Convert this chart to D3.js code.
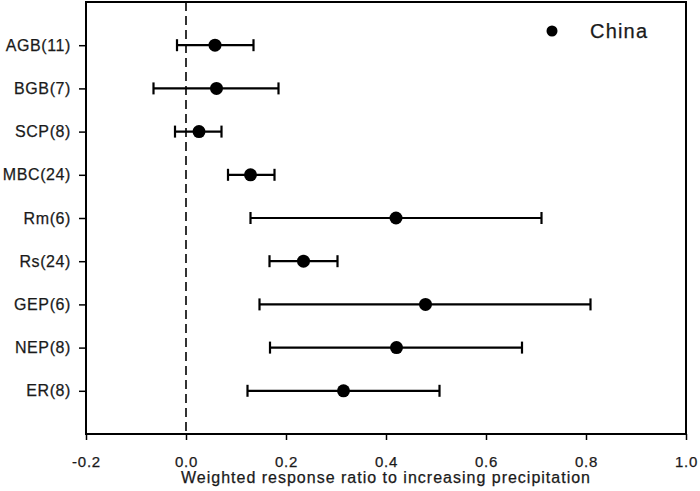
<!DOCTYPE html>
<html>
<head>
<meta charset="utf-8">
<script src="https://cdn.jsdelivr.net/npm/d3@7"></script>
<style>
  html, body { margin: 0; padding: 0; background: #fff; }
  text { font-family: "Liberation Sans", Arial, sans-serif; fill: #1a1a1a; stroke: #1a1a1a; stroke-width: 0.25px; }
</style>
</head>
<body>
<svg id="chart" width="700" height="491"></svg>
<script>
// ---- data ----
const categories = ["AGB(11)", "BGB(7)", "SCP(8)", "MBC(24)", "Rm(6)", "Rs(24)", "GEP(6)", "NEP(8)", "ER(8)"];
const meanValues = [0.058, 0.061, 0.026, 0.129, 0.420, 0.235, 0.479, 0.421, 0.315];
const lowerCI    = [-0.018, -0.065, -0.022, 0.084, 0.129, 0.167, 0.147, 0.168, 0.123];
const upperCI    = [0.135, 0.185, 0.071, 0.177, 0.711, 0.303, 0.809, 0.672, 0.507];
const xTickValues = [-0.2, 0.0, 0.2, 0.4, 0.6, 0.8, 1.0];
const xTickLabels = ["-0.2", "0.0", "0.2", "0.4", "0.6", "0.8", "1.0"];
const seriesName = "China";
const xTitle = "Weighted response ratio to increasing precipitation";

const svg = d3.select("#chart");
const m = { left: 86, right: 686, top: 2, bottom: 434 };

const x = d3.scaleLinear().domain([-0.2, 1.0]).range([m.left, m.right]);
const y = d3.scaleLinear().domain([0, categories.length + 1]).range([m.top, m.bottom]);

const rows = categories.map((c, i) => ({ c, i, mean: meanValues[i], lo: lowerCI[i], hi: upperCI[i] }));

// frame
svg.append("rect")
  .attr("x", m.left).attr("y", m.top)
  .attr("width", m.right - m.left).attr("height", m.bottom - m.top)
  .attr("fill", "none").attr("stroke", "#000").attr("stroke-width", 2);

// zero dashed line
svg.append("line")
  .attr("x1", x(0)).attr("x2", x(0))
  .attr("y1", m.top).attr("y2", m.bottom)
  .attr("stroke", "#000").attr("stroke-width", 1.6)
  .attr("stroke-dasharray", "9,5");

// x axis
const xAxis = d3.axisBottom(x).tickValues(xTickValues)
  .tickFormat((d, i) => xTickLabels[i]).tickSize(6).tickSizeOuter(0);
const gx = svg.append("g").attr("transform", `translate(0,${m.bottom})`).call(xAxis);
gx.select(".domain").remove();
gx.selectAll(".tick line").attr("stroke", "#000").attr("stroke-width", 1.5);
gx.selectAll(".tick text")
  .attr("y", 22)
  .style("font-size", "15px").style("letter-spacing", "0.8px")
  .attr("fill", "#1a1a1a")
  .style("font-family", "'Liberation Sans', Arial, sans-serif");

// y axis
const yAxis = d3.axisLeft(y).tickValues(rows.map(r => r.i + 1))
  .tickFormat(v => categories[v - 1]).tickSize(7).tickSizeOuter(0);
const gy = svg.append("g").attr("transform", `translate(${m.left},0)`).call(yAxis);
gy.select(".domain").remove();
gy.selectAll(".tick line").attr("stroke", "#000").attr("stroke-width", 1.5);
gy.selectAll(".tick text")
  .attr("x", -15)
  .style("font-size", "16px").style("letter-spacing", "0.6px")
  .attr("fill", "#1a1a1a")
  .style("font-family", "'Liberation Sans', Arial, sans-serif");

// x title
svg.append("text")
  .attr("x", (m.left + m.right) / 2).attr("y", 483)
  .attr("text-anchor", "middle")
  .style("font-size", "16px").style("letter-spacing", "1px")
  .text(xTitle);

// error bars
const g = svg.append("g");
const capH = 6;
g.selectAll("line.ci").data(rows).join("line").attr("class", "ci")
  .attr("x1", d => x(d.lo)).attr("x2", d => x(d.hi))
  .attr("y1", d => y(d.i + 1)).attr("y2", d => y(d.i + 1))
  .attr("stroke", "#000").attr("stroke-width", 2.2);
g.selectAll("line.capL").data(rows).join("line").attr("class", "capL")
  .attr("x1", d => x(d.lo)).attr("x2", d => x(d.lo))
  .attr("y1", d => y(d.i + 1) - capH).attr("y2", d => y(d.i + 1) + capH)
  .attr("stroke", "#000").attr("stroke-width", 2.2);
g.selectAll("line.capR").data(rows).join("line").attr("class", "capR")
  .attr("x1", d => x(d.hi)).attr("x2", d => x(d.hi))
  .attr("y1", d => y(d.i + 1) - capH).attr("y2", d => y(d.i + 1) + capH)
  .attr("stroke", "#000").attr("stroke-width", 2.2);
g.selectAll("circle").data(rows).join("circle")
  .attr("cx", d => x(d.mean)).attr("cy", d => y(d.i + 1))
  .attr("r", 6.5).attr("fill", "#000");

// legend
svg.append("circle").attr("cx", 552).attr("cy", 31).attr("r", 5.5).attr("fill", "#000");
svg.append("text").attr("x", 590).attr("y", 38)
  .style("font-size", "20px").style("letter-spacing", "1.2px")
  .text(seriesName);
</script>
</body>
</html>
